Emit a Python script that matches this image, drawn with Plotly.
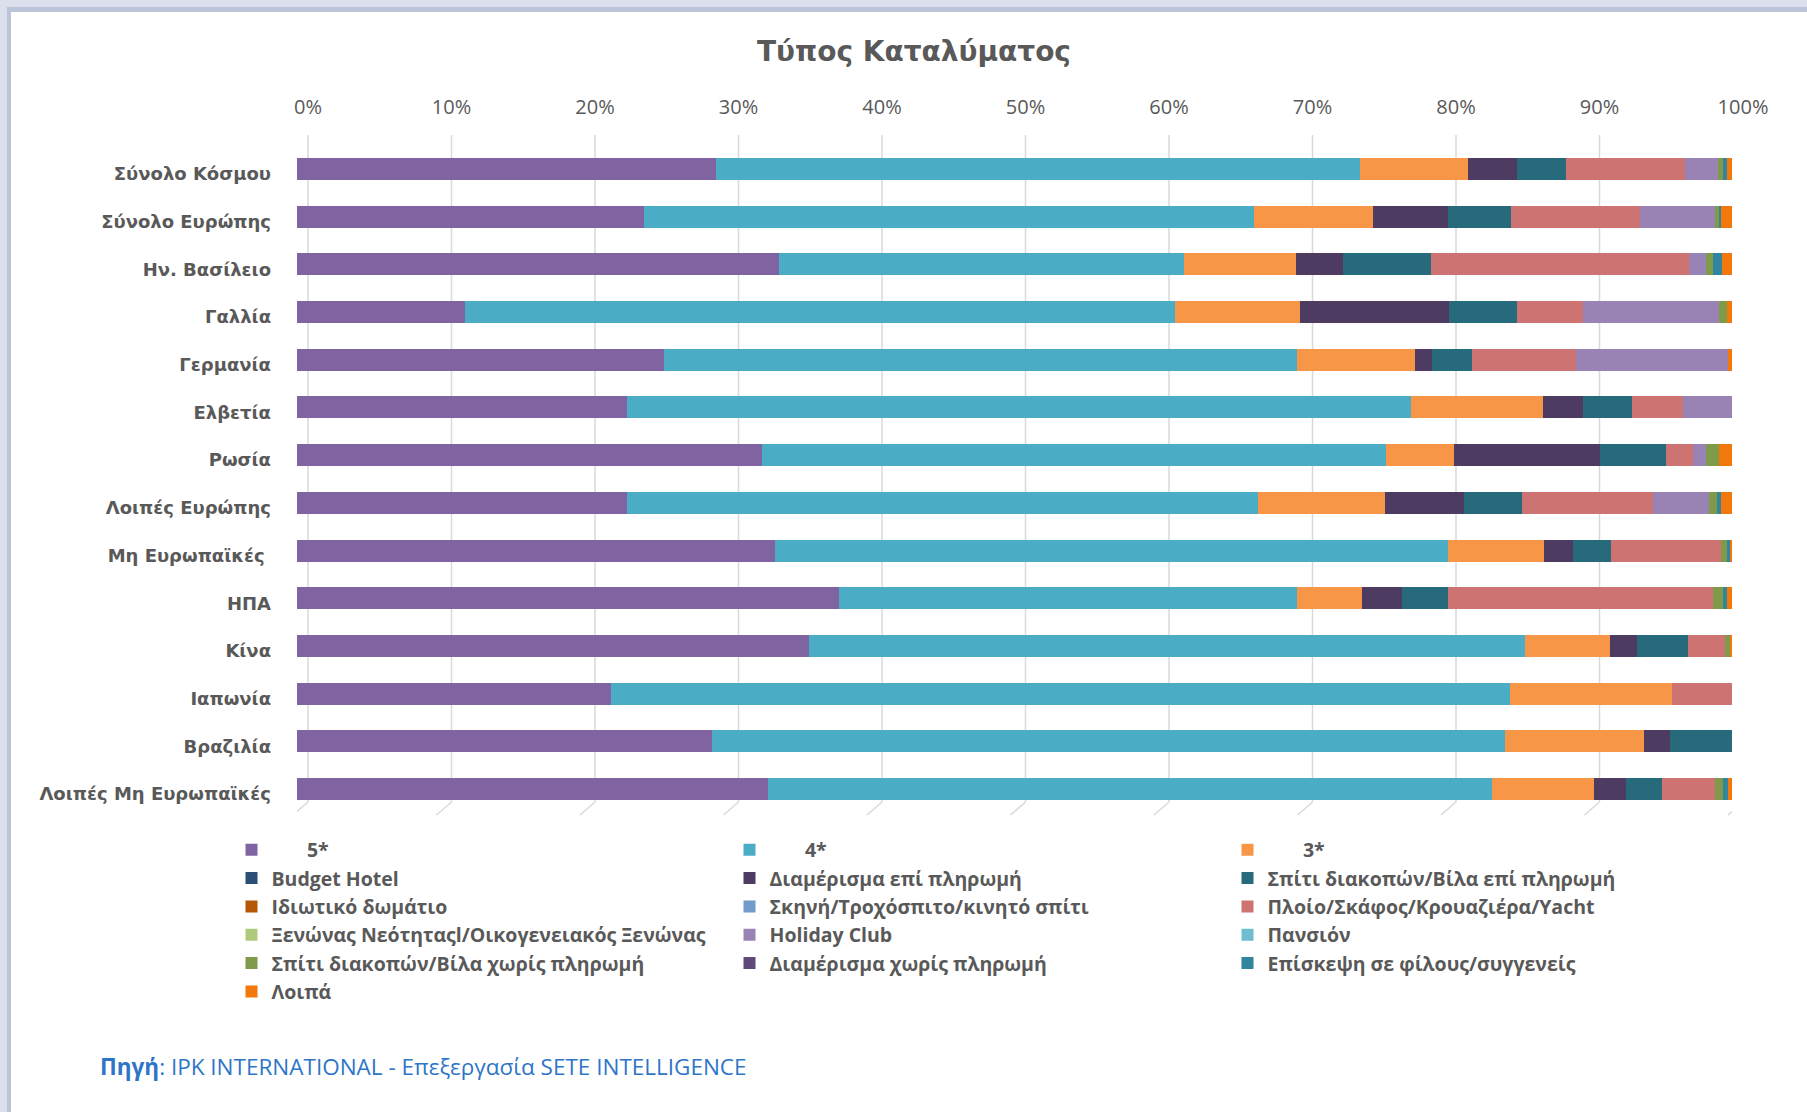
import plotly.graph_objects as go

# ---------------- data (percent of each market) ----------------
categories = ["Σύνολο Κόσμου", "Σύνολο Ευρώπης", "Ην. Βασίλειο", "Γαλλία", "Γερμανία",
              "Ελβετία", "Ρωσία", "Λοιπές Ευρώπης", "Μη Ευρωπαϊκές ", "ΗΠΑ", "Κίνα",
              "Ιαπωνία", "Βραζιλία", "Λοιπές Μη Ευρωπαϊκές"]

s_5star        = [29.2, 24.2, 33.6, 11.7, 25.6, 23.0, 32.4, 23.0, 33.3, 37.8, 35.7, 21.9, 28.9, 32.8]
s_4star        = [44.9, 42.5, 28.2, 49.5, 44.1, 54.6, 43.5, 44.0, 46.9, 31.9, 49.9, 62.6, 55.3, 50.5]
s_3star        = [7.5, 8.3, 7.8, 8.7, 8.2, 9.2, 4.7, 8.8, 6.7, 4.5, 5.9, 11.3, 9.7, 7.1]
s_budget       = [0, 0, 0, 0, 0, 0, 0, 0, 0, 0, 0, 0, 0, 0]
s_apt_paid     = [3.4, 5.2, 3.3, 10.4, 1.2, 2.8, 10.2, 5.5, 2.0, 2.8, 1.9, 0, 1.8, 2.2]
s_villa_paid   = [3.4, 4.4, 6.1, 4.7, 2.8, 3.4, 4.6, 4.1, 2.7, 3.2, 3.5, 0, 4.3, 2.5]
s_private_room = [0, 0, 0, 0, 0, 0, 0, 0, 0, 0, 0, 0, 0, 0]
s_camping      = [0, 0, 0, 0, 0, 0, 0, 0, 0, 0, 0, 0, 0, 0]
s_cruise       = [8.3, 9.0, 18.0, 4.6, 7.2, 3.6, 1.9, 9.1, 7.6, 18.5, 2.6, 4.2, 0, 3.7]
s_hostel       = [0, 0, 0, 0, 0, 0, 0, 0, 0, 0, 0, 0, 0, 0]
s_holiday_club = [2.3, 5.2, 1.2, 9.5, 10.6, 3.4, 0.9, 3.9, 0, 0, 0, 0, 0, 0]
s_pension      = [0, 0, 0, 0, 0, 0, 0, 0, 0, 0, 0, 0, 0, 0]
s_villa_free   = [0.4, 0.3, 0.5, 0.55, 0, 0, 0.9, 0.55, 0.45, 0.7, 0.4, 0, 0, 0.6]
s_apt_free     = [0, 0, 0, 0, 0, 0, 0, 0, 0, 0, 0, 0, 0, 0]
s_friends      = [0.25, 0.1, 0.6, 0, 0, 0, 0, 0.25, 0.2, 0.25, 0, 0, 0, 0.3]
s_other        = [0.35, 0.8, 0.7, 0.35, 0.3, 0, 0.9, 0.8, 0.15, 0.35, 0.1, 0, 0, 0.3]

pad = "\u00a0" * 7
series_names = [pad + "5*", pad + "4*", pad + "3*",
                "Budget Hotel", "Διαμέρισμα επί πληρωμή", "Σπίτι διακοπών/Βίλα επί πληρωμή",
                "Ιδιωτικό δωμάτιο", "Σκηνή/Τροχόσπιτο/κινητό σπίτι", "Πλοίο/Σκάφος/Κρουαζιέρα/Yacht",
                "Ξενώνας Νεότηταςl/Οικογενειακός Ξενώνας", "Holiday Club", "Πανσιόν",
                "Σπίτι διακοπών/Βίλα χωρίς πληρωμή", "Διαμέρισμα χωρίς πληρωμή",
                "Επίσκεψη σε φίλους/συγγενείς", "Λοιπά"]
series_values = [s_5star, s_4star, s_3star, s_budget, s_apt_paid, s_villa_paid,
                 s_private_room, s_camping, s_cruise, s_hostel, s_holiday_club, s_pension,
                 s_villa_free, s_apt_free, s_friends, s_other]
series_colors = ["#8064A2", "#4BACC6", "#F79646", "#2C4D75", "#4D3B62", "#276A7C",
                 "#B65708", "#729ACA", "#CD7371", "#AFC97A", "#9983B5", "#6FBDD1",
                 "#7F9A48", "#604A7B", "#31859C", "#F2780C"]

tick_vals = [0, 10, 20, 30, 40, 50, 60, 70, 80, 90, 100]
tick_text = ["0%", "10%", "20%", "30%", "40%", "50%", "60%", "70%", "80%", "90%", "100%"]

# ---------------- layout geometry (pixels) ----------------
W, H = 1807, 1112
PL, PR, PT, PB = 297, 1732, 145, 813   # plot area
pw, ph = PR - PL, PB - PT
DEPTH = 11                               # back-wall offset of the 3-D look

def px_x(x):
    return (x - PL) / pw

def px_y(y):
    return (PB - y) / ph

fig = go.Figure()
for name, vals, col in zip(series_names, series_values, series_colors):
    fig.add_trace(go.Bar(
        y=categories, x=vals, name=name, orientation="h",
        marker=dict(color=col, line=dict(width=0)),
    ))

grey = "#595959"
fig.update_layout(
    width=W, height=H,
    margin=dict(l=PL, r=W - PR, t=PT, b=H - PB, autoexpand=False),
    barmode="stack", barnorm="percent", bargap=0.54,
    paper_bgcolor="white", plot_bgcolor="white",
    title=dict(text="<b>Τύπος Καταλύματος</b>", x=914 / W, xref="container", xanchor="center",
               y=1 - 51 / H, yref="container", yanchor="middle",
               font=dict(family="DejaVu Sans", size=28, color=grey)),
    xaxis=dict(range=[0, 100], side="top", tickmode="array", tickvals=tick_vals, ticktext=tick_text,
               showgrid=False, zeroline=False,
               showline=False, ticks="", ticklabelstandoff=26, ticklabelshift=DEPTH,
               tickfont=dict(family="Open Sans", size=20, color=grey)),
    yaxis=dict(autorange="reversed", showgrid=False, showline=False, ticks="",
               ticklabelstandoff=25, ticklabelshift=-5,
               tickfont=dict(family="DejaVu Sans", size=18, color=grey, weight="bold")),
    legend=dict(orientation="h", x=px_x(231.5), xanchor="left", y=px_y(830.5), yanchor="top",
                traceorder="normal", entrywidth=453, entrywidthmode="pixels",
                bgcolor="rgba(0,0,0,0)",
                font=dict(family="Open Sans", size=19.5, color=grey, weight="bold")),
    showlegend=True,
)

# back-wall gridlines (offset to mimic the 3-D depth), drawn beneath the bars
for v in tick_vals:
    fig.add_shape(type="line", xref="x", xsizemode="pixel", xanchor=v, x0=DEPTH, x1=DEPTH,
                  yref="paper", y0=px_y(135), y1=px_y(802),
                  line=dict(color="#D9D9D9", width=1.5), layer="below")
    fig.add_shape(type="line", xref="x", xsizemode="pixel", xanchor=v, x0=DEPTH, x1=-4,
                  yref="paper", y0=px_y(802), y1=px_y(815),
                  line=dict(color="#D9D9D9", width=1.5), layer="below")

# frame bands (top and left)
fig.add_shape(type="rect", xref="paper", yref="paper", x0=px_x(0), x1=px_x(W), y0=px_y(0), y1=px_y(7),
              fillcolor="#DCE0EC", line=dict(width=0), layer="below")
fig.add_shape(type="rect", xref="paper", yref="paper", x0=px_x(0), x1=px_x(W), y0=px_y(7), y1=px_y(12),
              fillcolor="#BCC4DA", line=dict(width=0), layer="below")
fig.add_shape(type="rect", xref="paper", yref="paper", x0=px_x(0), x1=px_x(7), y0=px_y(0), y1=px_y(H),
              fillcolor="#DCE0EC", line=dict(width=0), layer="below")
fig.add_shape(type="rect", xref="paper", yref="paper", x0=px_x(7), x1=px_x(11), y0=px_y(12), y1=px_y(H),
              fillcolor="#BCC4DA", line=dict(width=0), layer="below")

fig.add_annotation(
    text="<b>Πηγή</b>: IPK INTERNATIONAL - Επεξεργασία SETE INTELLIGENCE",
    xref="paper", yref="paper", x=px_x(98), y=px_y(1066), xanchor="left", yanchor="middle",
    showarrow=False, font=dict(family="Open Sans", size=22.5, color="#2E75C8"))

fig.write_html("out.html", config={"displayModeBar": False},
               post_script="document.body.style.margin='0';")
